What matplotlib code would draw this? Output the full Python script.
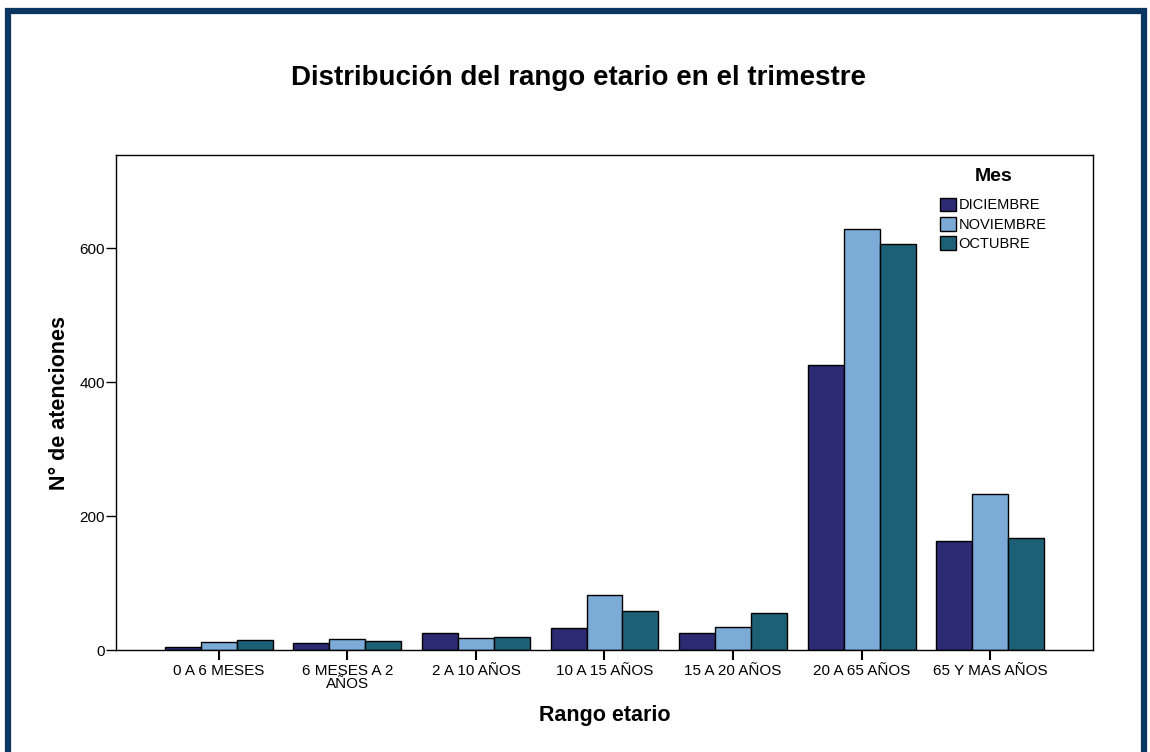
import numpy as np
import matplotlib.pyplot as plt
from matplotlib.patches import Rectangle

plt.rcParams['font.family'] = ['Liberation Sans', 'DejaVu Sans']

# datos
categorias = ["0 A 6 MESES", "6 MESES A 2\nAÑOS", "2 A 10 AÑOS", "10 A 15 AÑOS",
              "15 A 20 AÑOS", "20 A 65 AÑOS", "65 Y MAS AÑOS"]
meses = ["DICIEMBRE", "NOVIEMBRE", "OCTUBRE"]
diciembre = [5, 10, 26, 33, 25, 425, 163]
noviembre = [12, 16, 18, 82, 35, 628, 233]
octubre = [15, 14, 20, 59, 55, 606, 167]
colores = ["#2b2a72", "#7babd6", "#1d6075"]

fig = plt.figure(figsize=(11.5, 7.52), dpi=100)
ax = fig.add_axes([0.1009, 0.1356, 0.8495, 0.6583])

x = np.arange(len(categorias))
ancho = 0.28
for i, (serie, nombre) in enumerate(zip([diciembre, noviembre, octubre], meses)):
    ax.bar(x + (i - 1) * ancho, serie, width=ancho, color=colores[i],
           edgecolor="black", linewidth=1, label=nombre)

ax.set_xlim(-0.8, 6.8)
ax.set_ylim(0, 739)
ax.set_yticks([0, 200, 400, 600])
ax.set_xticks(x)
ax.set_xticklabels(categorias, fontsize=11, linespacing=0.95)
ax.tick_params(axis="y", labelsize=11, length=7, width=1, direction="out", pad=1)
ax.tick_params(axis="x", length=7, width=1.5, direction="out", pad=3)
for s in ax.spines.values():
    s.set_linewidth(1)

ax.set_xlabel("Rango etario", fontsize=15.5, fontweight="bold", labelpad=10)
ax.set_ylabel("N° de atenciones", fontsize=15.5, fontweight="bold", labelpad=7)

fig.text(0.503, 0.896, "Distribución del rango etario en el trimestre",
         ha="center", va="center", fontsize=20, fontweight="bold")

leg = ax.legend(title="Mes", loc="upper right", bbox_to_anchor=(0.966, 1.0),
                frameon=False, fontsize=10.5, handlelength=1.1, handleheight=1.05,
                handletextpad=0.2, labelspacing=0.32)
leg.get_title().set_fontweight("bold")
leg.get_title().set_fontsize(14)
leg._legend_box.sep = 9

# marco azul
fig.patches.append(Rectangle((8 / 1150, -0.05), 1136 / 1150, 1.05 - 11 / 752,
                             transform=fig.transFigure, fill=False,
                             edgecolor="#0b3662", linewidth=4.5))

fig.savefig("out.png", dpi=100)
